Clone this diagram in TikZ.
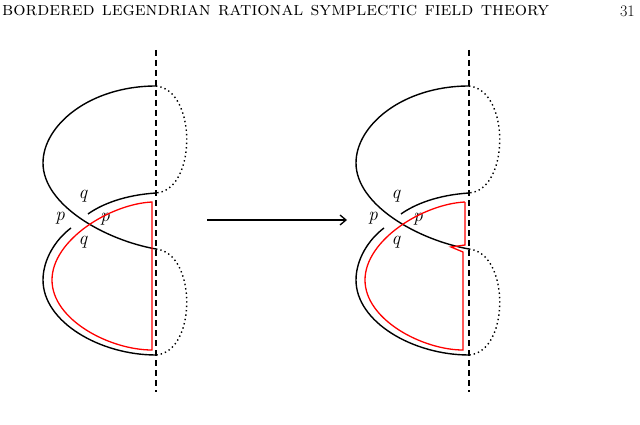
\documentclass[tikz,border=0pt]{standalone}
\usetikzlibrary{arrows.meta}
\begin{document}
\begin{tikzpicture}[x=1pt,y=-1pt,
  strand/.style={line width=1.4pt,black},
  redc/.style={line width=1.3pt,red},
  dott/.style={line width=1.4pt,dash pattern=on 1.4pt off 3pt},
  dashl/.style={line width=1.4pt,dash pattern=on 6pt off 4pt},
  lbl/.style={font=\fontsize{19}{21}\selectfont\itshape,inner sep=0pt}]
\useasboundingbox (0,0) rectangle (640,425);
\node[anchor=west,inner sep=0pt] (hd) at (2,11) {\resizebox{547pt}{!}{\scshape\small bordered legendrian rational symplectic field theory}};
\node[anchor=east,inner sep=0pt,font=\fontsize{16}{18}\selectfont] (pg) at (635,11) {31};
\foreach \o in {0,313}{
\begin{scope}[xshift=\o]
\draw[dashl] (156,50) -- (156,392);
\draw[strand] (156,86) .. controls (90,86) and (43,125) .. (43,163) .. controls (43,205) and (105,240) .. (156,249);
\draw[strand] (156,193) .. controls (125,195) and (102,204) .. (88,214);
\draw[strand] (71,228) .. controls (55,240) and (43,260) .. (43,280) .. controls (43,322) and (100,355) .. (156,355);
\draw[dott] (156,86) .. controls (197,90) and (197,190) .. (156,193);
\draw[dott] (156,249) .. controls (197,253) and (197,352) .. (156,355);
\node[lbl] (q1) at (83,196) {q};
\node[lbl] (p1) at (60,218) {p};
\node[lbl] (p2) at (105,219) {p};
\node[lbl] (q2) at (83,242) {q};
\end{scope}}
\draw[redc] (152,202) .. controls (110,204) and (52,240) .. (52,280) .. controls (52,320) and (110,350) .. (152,350) -- cycle;
\draw[redc] (465,202) -- (465,245) -- (451,247) -- (463,252) -- (463,350) .. controls (423,350) and (365,320) .. (365,280) .. controls (365,240) and (423,204) .. (465,202);
\coordinate (a1) at (207,220);
\coordinate (a2) at (347,220);
\draw[-{Straight Barb[length=6pt,width=10pt]},line width=1.3pt] (a1) -- (a2);
\end{tikzpicture}
\end{document}
